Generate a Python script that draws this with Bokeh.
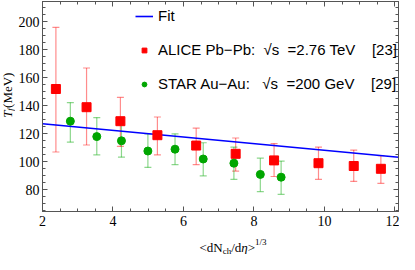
import math
from bokeh.plotting import figure
from bokeh.layouts import column, row
from bokeh.models import (ColumnDataSource, Whisker, TeeHead, LinearAxis, Range1d,
                          Legend, LegendItem, SingleIntervalTicker)
from bokeh.core.properties import value
from bokeh.embed import file_html
from bokeh.resources import INLINE

# ---- data ----
alice_x = [2.38, 3.25, 4.21, 5.26, 6.36, 7.48, 8.57, 9.83, 10.83, 11.60]
alice_y = [152.0, 139.0, 129.0, 119.0, 111.6, 105.7, 101.0, 99.0, 97.0, 95.0]
alice_hi = [196.0, 167.0, 146.0, 132.0, 124.0, 117.0, 113.0, 110.5, 108.4, 104.4]
alice_lo = [107.0, 112.0, 111.0, 105.0, 98.0, 93.4, 89.5, 87.5, 86.0, 84.6]

star_x = [2.79, 3.54, 4.24, 4.99, 5.76, 6.56, 7.43, 8.18, 8.77]
star_y = [129.0, 118.0, 115.0, 107.7, 109.0, 102.0, 99.0, 91.0, 89.0]
star_hi = [142.3, 131.6, 128.3, 120.0, 120.0, 113.6, 110.5, 102.6, 100.5]
star_lo = [114.0, 105.0, 103.3, 96.0, 98.0, 90.0, 87.5, 78.7, 76.8]

fit_x = [2.0, 12.1]
fit_y = [127.2, 103.3]

legend_labels = ["Fit",
                 "ALICE Pb\u2212Pb:  \u221as  =2.76 TeV    [23]",
                 "STAR Au\u2212Au:   \u221as  =200 GeV    [29]"]

# axis title pieces: (text, offset along text, offset across (down), size, style)
x_title = [("<dN", 0.0, 0.0, 13, "normal"),
           ("ch", 23.2, 3.0, 9, "normal"),
           ("/d", 31.7, 0.0, 13, "normal"),
           ("\u03b7", 41.8, 0.0, 13, "italic"),
           (">", 48.3, 0.0, 13, "normal"),
           ("1/3", 55.6, -5.5, 9, "normal")]
y_title = [("T", 0.0, 0.0, 13, "italic"),
           ("f", 7.7, 2.5, 9, "italic"),
           ("(MeV)", 10.7, 0.0, 13, "normal")]

RED = "#ff0000"
GREEN = "#00a600"
BLUE = "#0000ff"
AX = "#555555"
SERIF = "Liberation Serif"

X0, X1 = 2.0, 12.1
Y0, Y1 = 64.5, 214.5
WY = 15            # y-title strip width
HX = 22            # x-title strip height
W, H = 399, 254
WM, HM = W - WY, H - HX

p = figure(width=WM, height=HM, output_backend="svg", toolbar_location=None,
           x_range=Range1d(X0, X1), y_range=Range1d(Y0, Y1),
           min_border_left=26, min_border_right=1,
           min_border_top=1, min_border_bottom=21,
           x_axis_location=None, y_axis_location=None)
p.xgrid.visible = False
p.ygrid.visible = False
p.outline_line_color = AX
p.background_fill_color = "white"
p.border_fill_color = "white"


def style_axis(ax, labels=True):
    ax.axis_line_color = AX
    ax.major_tick_line_color = AX
    ax.minor_tick_line_color = AX
    ax.major_tick_in = 5
    ax.major_tick_out = 0
    ax.minor_tick_in = 3
    ax.minor_tick_out = 0
    if labels:
        ax.major_label_text_font = SERIF
        ax.major_label_text_font_size = "14px"
        ax.major_label_text_color = "black"
    else:
        ax.major_label_text_color = None
        ax.major_label_text_font_size = "1px"
        ax.major_label_standoff = 0


bx = LinearAxis(ticker=SingleIntervalTicker(interval=2, num_minor_ticks=4))
style_axis(bx)
bx.major_label_standoff = 4
ly = LinearAxis(ticker=SingleIntervalTicker(interval=20, num_minor_ticks=4))
style_axis(ly)
ly.major_label_standoff = 3
tx = LinearAxis(ticker=SingleIntervalTicker(interval=2, num_minor_ticks=4))
style_axis(tx, labels=False)
ry = LinearAxis(ticker=SingleIntervalTicker(interval=20, num_minor_ticks=4))
style_axis(ry, labels=False)
p.add_layout(bx, "below")
p.add_layout(ly, "left")
p.add_layout(tx, "above")
p.add_layout(ry, "right")

# ---- sources ----
src_a = ColumnDataSource(dict(x=alice_x, y=alice_y, hi=alice_hi, lo=alice_lo))
src_s = ColumnDataSource(dict(x=star_x, y=star_y, hi=star_hi, lo=star_lo))
src_f = ColumnDataSource(dict(x=fit_x, y=fit_y))

for src, col in ((src_a, RED), (src_s, GREEN)):
    w = Whisker(source=src, base="x", upper="hi", lower="lo", dimension="height",
                line_color=col, line_alpha=0.45, line_width=1.2, level="underlay",
                upper_head=TeeHead(size=7, line_color=col, line_alpha=0.45, line_width=1.2),
                lower_head=TeeHead(size=7, line_color=col, line_alpha=0.45, line_width=1.2))
    p.add_layout(w)

r_fit = p.line("x", "y", source=src_f, line_color=BLUE, line_width=1.6)
r_a = p.scatter("x", "y", source=src_a, marker="square", size=9, fill_color=RED,
                line_color=RED)
r_s = p.scatter("x", "y", source=src_s, marker="circle", size=8, fill_color=GREEN,
                line_color=GREEN)

legend = Legend(items=[LegendItem(label=legend_labels[0], renderers=[r_fit]),
                       LegendItem(label=legend_labels[1], renderers=[r_a]),
                       LegendItem(label=legend_labels[2], renderers=[r_s])],
                location=(93, 119), orientation="vertical",
                glyph_width=18, glyph_height=12, label_height=16,
                spacing=17, padding=0, margin=0, label_standoff=5,
                label_text_font="Liberation Sans", label_text_font_size="15px",
                label_text_color="black",
                border_line_color=None, background_fill_alpha=0)
p.add_layout(legend)


def strip(width, height):
    f = figure(width=width, height=height, output_backend="svg", toolbar_location=None,
               x_range=Range1d(0, width), y_range=Range1d(0, height),
               min_border=0, x_axis_location=None, y_axis_location=None)
    f.xgrid.visible = False
    f.ygrid.visible = False
    f.outline_line_color = None
    f.background_fill_color = "white"
    f.border_fill_color = "white"
    return f


def put(f, pieces, x0, y0, rotated, baseline):
    for text, along, down, size, style in pieces:
        if rotated:
            xx, yy, ang = x0 + down, y0 + along, math.pi / 2
        else:
            xx, yy, ang = x0 + along, y0 - down, 0.0
        f.text(x=[xx], y=[yy], text=[text], angle=ang,
               text_font=value(SERIF), text_font_size=value(f"{size}px"),
               text_font_style=style, text_color="black",
               text_align="left", text_baseline=baseline)


# y title strip (text reads bottom-to-top, centred across the strip)
fy = strip(WY, HM)
put(fy, y_title, 7.0, HM - 128.3, True, "middle")

# x title strip (baseline 15 px below its top)
fx = strip(W, HX)
put(fx, x_title, 199, HX - 15, False, "alphabetic")

layout = column(row(fy, p, spacing=0), fx, spacing=0)
open("out.html", "w").write(file_html(layout, INLINE))
